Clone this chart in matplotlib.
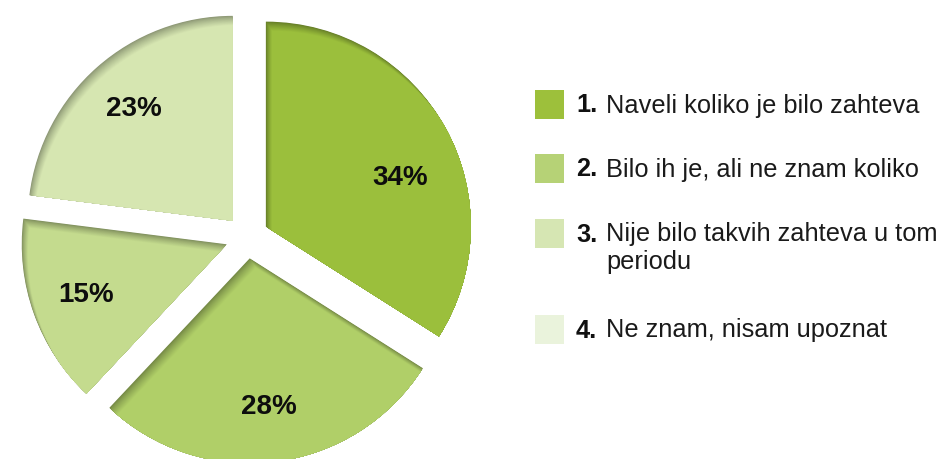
import matplotlib
matplotlib.use("Agg")
import matplotlib.pyplot as plt
import matplotlib.patches as mpatches
import matplotlib.transforms as mtransforms
from matplotlib.colors import to_rgb

# data
values = [34, 28, 15, 23]
slice_colors = ["#9bbf3c", "#b0cf68", "#c4db8e", "#d6e6b1"]
legend_nums = ["1.", "2.", "3.", "4."]
legend_texts = ["Naveli koliko je bilo zahteva",
                "Bilo ih je, ali ne znam koliko",
                "Nije bilo takvih zahteva u tom\nperiodu",
                "Ne znam, nisam upoznat"]
legend_colors = ["#9dc03b", "#b6d276", "#d6e6b3", "#eaf3dc"]

plt.rcParams["font.family"] = ["Liberation Sans", "DejaVu Sans"]

W, H = 942, 459
R = 205
fig = plt.figure(figsize=(W / 100, H / 100), dpi=100)
ax = fig.add_axes([0, 0, 1, 1])

wedges, texts, autotexts = ax.pie(
    values, colors=slice_colors, startangle=90, counterclock=False,
    explode=[0.105 * R] * len(values), center=(247, 222), radius=R,
    autopct="%d%%", pctdistance=0.73, labels=None,
    wedgeprops=dict(linewidth=0),
    textprops=dict(fontsize=20, fontweight="bold", color="#0d0d0d"))

# inner shadow along the upper-left edges: stacked shifted copies,
# darkest first, clipped to the wedge
n_layers = 14
shift = (6, -9)
for w, c in zip(wedges, slice_colors):
    base = to_rgb(c)
    dark = tuple(v * 0.66 for v in base)
    w.set_facecolor(dark)
    for k in range(1, n_layers + 1):
        s = k / n_layers
        t = s ** 0.8
        col = tuple(d + (b - d) * t for d, b in zip(dark, base))
        p = mpatches.Wedge(w.center, w.r, w.theta1, w.theta2,
                           facecolor=col, edgecolor="none")
        p.set_transform(mtransforms.Affine2D().translate(shift[0] * s, shift[1] * s)
                        + ax.transData)
        ax.add_patch(p)
        p.set_clip_path(w)
        p.set_zorder(w.get_zorder() + 0.01 * k)

for t in autotexts:
    t.set_zorder(5)
# the 34% label sits a little lower in the original
autotexts[0].set_position((400, H - 178))

# legend
box_y = [104, 168, 233, 329]
line_step = 28
for y, num, txt, col in zip(box_y, legend_nums, legend_texts, legend_colors):
    ax.add_patch(mpatches.Rectangle((535, H - y - 14.5), 29, 29,
                                    facecolor=col, edgecolor="none"))
    ax.text(576, H - y - 8.5, num, fontsize=18.3, fontweight="bold",
            color="#111111", va="baseline", ha="left")
    for i, line in enumerate(txt.split("\n")):
        ax.text(606, H - y - 8.5 - i * line_step, line, fontsize=18.3,
                color="#1a1a1a", va="baseline", ha="left")

ax.set_xlim(0, W)
ax.set_ylim(0, H)
ax.set_aspect("equal")
ax.axis("off")

fig.savefig("out.png", dpi=100)
